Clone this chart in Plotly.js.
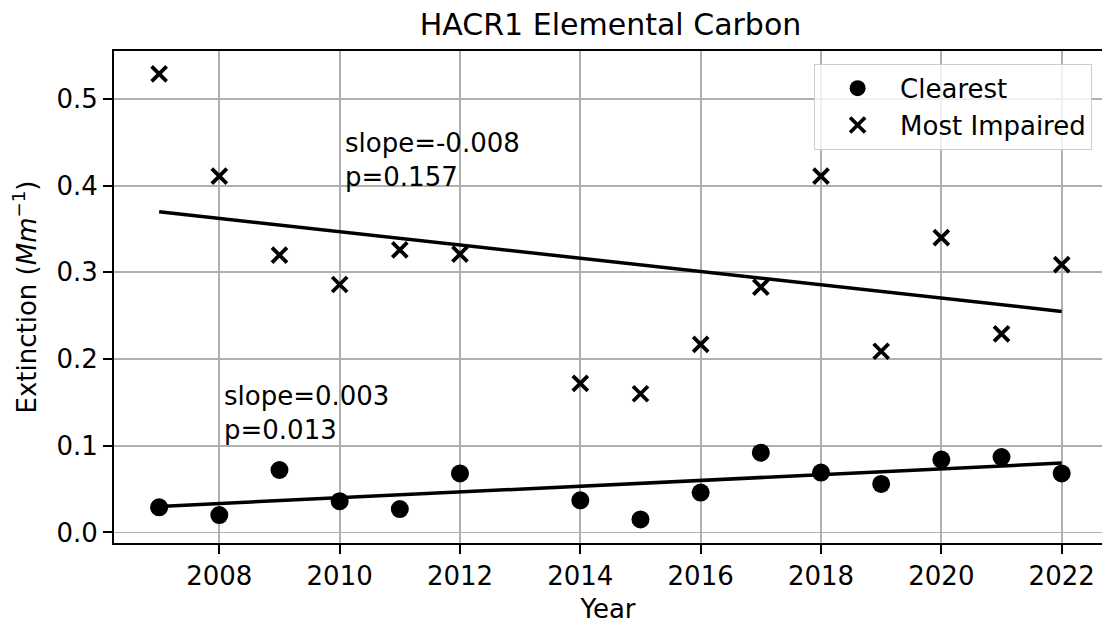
<!DOCTYPE html>
<html>
<head>
<meta charset="utf-8">
<script src="https://cdn.plot.ly/plotly-3.0.1.min.js"></script>
<style>html,body{margin:0;padding:0;background:#fff;}#chart{width:1102px;height:624px;}</style>
</head>
<body>
<div id="chart"></div>
<script>
const years = [2007, 2008, 2009, 2010, 2011, 2012, 2014, 2015, 2016, 2017, 2018, 2019, 2020, 2021, 2022];
const clearest = [0.029, 0.020, 0.072, 0.036, 0.027, 0.068, 0.037, 0.015, 0.046, 0.092, 0.069, 0.056, 0.084, 0.087, 0.068];
const mostImpaired = [0.529, 0.411, 0.320, 0.286, 0.326, 0.321, 0.172, 0.160, 0.217, 0.283, 0.411, 0.209, 0.340, 0.229, 0.309];
const trendYears = [2007, 2022];
const clearestTrend = [0.030, 0.080];
const impairedTrend = [0.370, 0.255];
const xTicks = [2008, 2010, 2012, 2014, 2016, 2018, 2020, 2022];
const yTicks = [0.0, 0.1, 0.2, 0.3, 0.4, 0.5];
const clearestLabel = 'slope=0.003<br>p=0.013';
const impairedLabel = 'slope=-0.008<br>p=0.157';

const FONT = 'DejaVu Sans, sans-serif';

const traces = [
  {x: years, y: clearest, type: 'scatter', mode: 'markers', name: 'Clearest',
   marker: {symbol: 'circle', size: 18, color: 'black'}},
  {x: years, y: mostImpaired, type: 'scatter', mode: 'markers', name: 'Most Impaired',
   marker: {symbol: 'x-thin-open', size: 15, color: 'black', line: {color: 'black', width: 3.8}}},
  {x: trendYears, y: clearestTrend, type: 'scatter', mode: 'lines', showlegend: false,
   line: {color: 'black', width: 3.5}},
  {x: trendYears, y: impairedTrend, type: 'scatter', mode: 'lines', showlegend: false,
   line: {color: 'black', width: 3.5}}
];

const layout = {
  width: 1102, height: 624,
  margin: {l: 114, r: 0, t: 51, b: 81, pad: 0},
  paper_bgcolor: 'white', plot_bgcolor: 'white',
  font: {family: FONT, size: 26, color: 'black'},
  title: {text: 'HACR1 Elemental Carbon', font: {family: FONT, size: 30, color: 'black'},
          x: 0.554, xanchor: 'center', y: 0.96, yanchor: 'middle', yref: 'container'},
  xaxis: {range: [2006.25, 2022.67], tickvals: xTicks, ticktext: xTicks.map(String),
          showgrid: true, gridcolor: '#b0b0b0', gridwidth: 1.8, zeroline: false,
          showline: true, linecolor: 'black', linewidth: 2, mirror: true,
          ticks: 'outside', ticklen: 9, tickwidth: 2, tickcolor: 'black',
          tickfont: {family: FONT, size: 26, color: 'black'},
          title: {text: 'Year', font: {family: FONT, size: 26, color: 'black'}, standoff: 10}},
  yaxis: {range: [-0.0122, 0.5554], tickvals: yTicks, ticktext: yTicks.map(v => v.toFixed(1)),
          showgrid: true, gridcolor: '#b0b0b0', gridwidth: 1.8, zeroline: false,
          showline: true, linecolor: 'black', linewidth: 2, mirror: false,
          ticks: 'outside', ticklen: 9, tickwidth: 2, tickcolor: 'black',
          tickfont: {family: FONT, size: 26, color: 'black'},
          title: {text: 'Extinction (<i>Mm</i><sup>−1</sup>)', font: {family: FONT, size: 26, color: 'black'}, standoff: 12}},
  legend: {x: 0.99, xanchor: 'right', y: 0.974, yanchor: 'top',
           bgcolor: 'rgba(255,255,255,0.8)', bordercolor: '#cccccc', borderwidth: 1,
           font: {family: FONT, size: 26, color: 'black'}, itemwidth: 75, tracegroupgap: 0},
  annotations: [
    {x: 2010.05, y: 0.39, xref: 'x', yref: 'y', text: impairedLabel, showarrow: false,
     xanchor: 'left', yanchor: 'bottom', align: 'left', font: {family: FONT, size: 26, color: 'black'}},
    {x: 2008.05, y: 0.099, xref: 'x', yref: 'y', text: clearestLabel, showarrow: false,
     xanchor: 'left', yanchor: 'bottom', align: 'left', font: {family: FONT, size: 26, color: 'black'}}
  ],
  showlegend: true
};

Plotly.newPlot('chart', traces, layout, {staticPlot: true, displayModeBar: false});
</script>
</body>
</html>
